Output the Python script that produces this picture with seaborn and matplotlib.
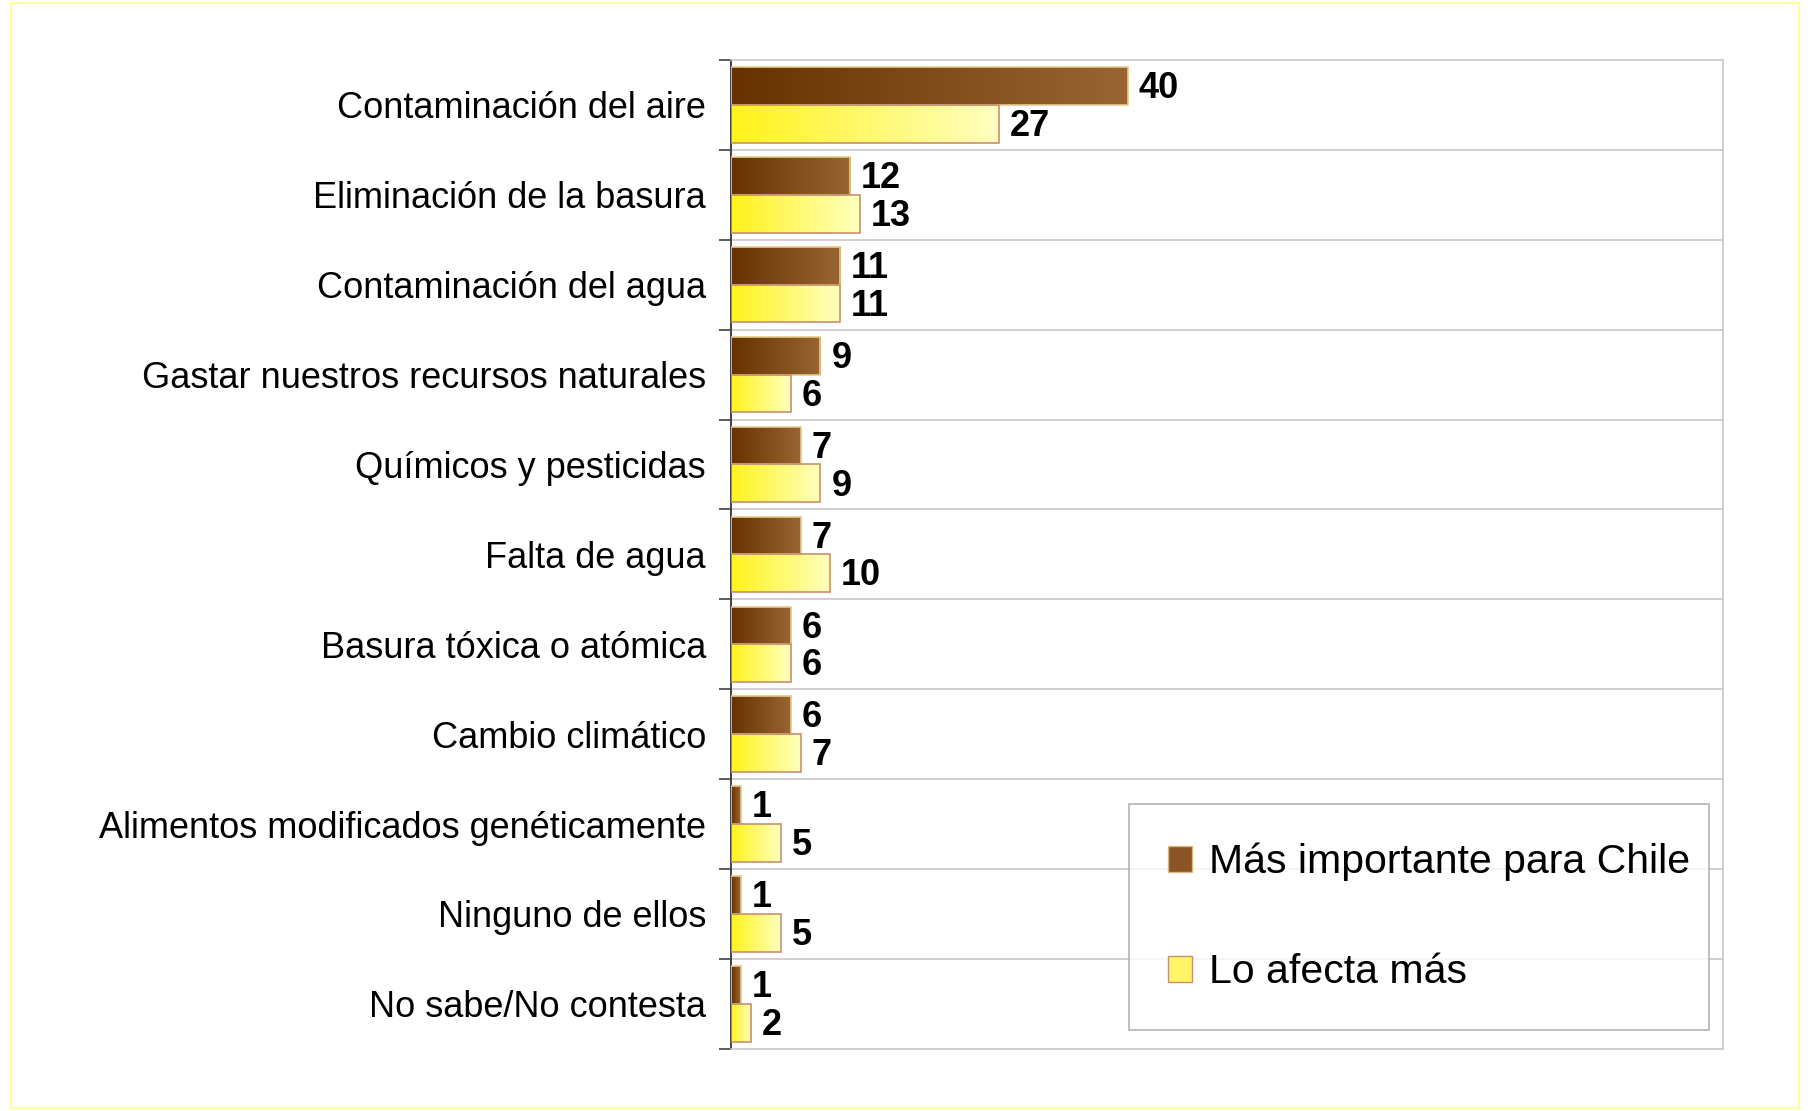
import numpy as np
import pandas as pd
import matplotlib
matplotlib.use('Agg')
import matplotlib.pyplot as plt
import seaborn as sns
from matplotlib.colors import LinearSegmentedColormap
from matplotlib.patches import Patch, Rectangle

categories = [
    'Contaminación del aire',
    'Eliminación de la basura',
    'Contaminación del agua',
    'Gastar nuestros recursos naturales',
    'Químicos y pesticidas',
    'Falta de agua',
    'Basura tóxica o atómica',
    'Cambio climático',
    'Alimentos modificados genéticamente',
    'Ninguno de ellos',
    'No sabe/No contesta',
]
series_names = ['Más importante para Chile', 'Lo afecta más']
importante = [40, 12, 11, 9, 7, 7, 6, 6, 1, 1, 1]
afecta = [27, 13, 11, 6, 9, 10, 6, 7, 5, 5, 2]

df = pd.DataFrame({
    'categoria': categories * 2,
    'serie': [series_names[0]] * len(categories) + [series_names[1]] * len(categories),
    'valor': importante + afecta,
})

sns.set_style('white')
plt.rcParams['font.family'] = ['Liberation Sans', 'DejaVu Sans']
plt.rcParams['text.color'] = 'black'
plt.rcParams['ytick.color'] = 'black'

fig = plt.figure(figsize=(18.14, 11.11), dpi=100)
fig.patch.set_facecolor('white')
ax = fig.add_axes([0.403, 0.056, 0.547, 0.890])

sns.barplot(data=df, y='categoria', x='valor', hue='serie', order=categories,
            hue_order=series_names, orient='h', width=0.84, ax=ax,
            palette=['#7a4a1e', '#fff35a'], legend=False, saturation=1)

cmaps = {
    series_names[0]: LinearSegmentedColormap.from_list('brown', ['#663300', '#996633']),
    series_names[1]: LinearSegmentedColormap.from_list('yell', ['#fff31a', '#ffffc0']),
}
edges = {series_names[0]: '#e6c98c', series_names[1]: '#c89070'}

grad = np.linspace(0, 1, 256).reshape(1, -1)
ax.set_xlim(0, 100)
ax.set_ylim(len(categories) - 0.5, -0.5)

for container, name in zip(ax.containers, series_names):
    for bar, val in zip(container, df[df['serie'] == name]['valor']):
        x0, y0 = bar.get_x(), bar.get_y()
        w, h = bar.get_width(), bar.get_height()
        bar.set_facecolor('none')
        bar.set_edgecolor(edges[name])
        bar.set_linewidth(1.2)
        bar.set_zorder(3)
        im = ax.imshow(grad, cmap=cmaps[name], aspect='auto',
                       extent=(x0, x0 + w, y0 + h, y0), zorder=2, interpolation='bilinear')
        im.set_clip_path(bar)
        ax.text(x0 + w + 1.1, y0 + h / 2 + 0.03, str(val), va='center', ha='left',
                fontsize=26, fontweight='bold', color='black')

# restore limits after imshow
ax.set_xlim(0, 100)
ax.set_ylim(len(categories) - 0.5, -0.5)

# grid lines between categories
bounds = np.arange(-0.5, len(categories) + 0.5, 1)
for b in bounds[1:-1]:
    ax.axhline(b, color='#c8c8c8', lw=1.2, zorder=1)

ax.set_yticks(bounds, minor=True)
ax.tick_params(axis='y', which='minor', length=9, width=1.2, color='#404040', left=True)
ax.tick_params(axis='y', which='major', length=0, pad=18, labelsize=26, labelcolor='black')
ax.set_xticks([])
ax.set_xlabel('')
ax.set_ylabel('')

for side in ['top', 'right', 'bottom']:
    ax.spines[side].set_color('#c8c8c8')
    ax.spines[side].set_linewidth(1.2)
ax.spines['left'].set_color('#404040')
ax.spines['left'].set_linewidth(1.4)

handles = [Patch(facecolor='#8a5426', edgecolor='#d8b880'),
           Patch(facecolor='#fff566', edgecolor='#c89070')]
leg = ax.legend(handles, series_names, loc='lower left',
                bbox_to_anchor=(0.401, 0.019, 0.585, 0.227), mode='expand',
                fontsize=29.5, frameon=True, fancybox=False, borderpad=0.95,
                labelspacing=1.75, handlelength=0.6, handleheight=0.6,
                handletextpad=0.4, borderaxespad=0)
leg.get_frame().set_edgecolor('#a0a0a0')
leg.get_frame().set_linewidth(1.2)
for t in leg.get_texts():
    t.set_color('black')

# outer thin yellow frame
fig.patches.append(Rectangle((0.006, 0.003), 0.986, 0.994, transform=fig.transFigure,
                             fill=False, edgecolor='#ffffa0', lw=1.5))

fig.savefig('out.png', dpi=100)
